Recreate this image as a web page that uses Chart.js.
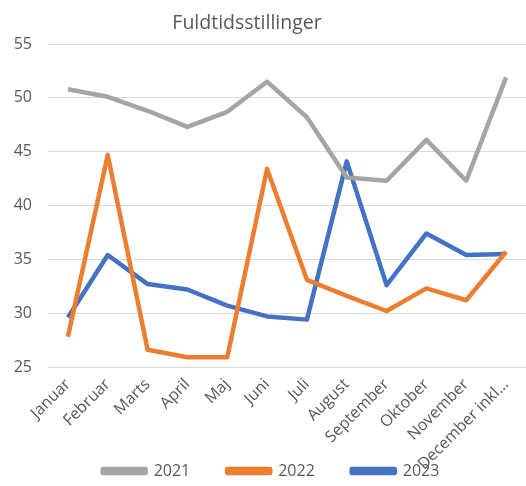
<!DOCTYPE html>
<html>
<head>
<meta charset="utf-8">
<script src="https://cdn.jsdelivr.net/npm/chart.js@4"></script>
<style>
  html, body { margin:0; padding:0; background:#fff; }
  #wrap { width:526px; height:486px; }
</style>
</head>
<body>
<div id="wrap"><canvas id="chart" width="526" height="486"></canvas></div>
<script>
// data
const months = ['Januar', 'Februar', 'Marts', 'April', 'Maj', 'Juni', 'Juli', 'August', 'September', 'Oktober', 'November', 'December inkl...'];
const values2021 = [50.8, 50.1, 48.8, 47.3, 48.7, 51.5, 48.2, 42.6, 42.3, 46.1, 42.3, 51.9];
const values2022 = [27.8, 44.7, 26.6, 25.9, 25.9, 43.4, 33.1, 31.6, 30.2, 32.3, 31.2, 35.7];
const values2023 = [29.6, 35.4, 32.7, 32.2, 30.7, 29.7, 29.4, 44.1, 32.6, 37.4, 35.4, 35.5];
const yMin = 25, yMax = 55, yStep = 5;
const chartTitle = 'Fuldtidsstillinger';

const textColor = '#595959';
const fontFamily = '"Open Sans", sans-serif';

// title sits a bit left of centre in the original, so draw it by hand
const titlePlugin = {
  id: 'offsetTitle',
  afterDraw(chart) {
    const ctx = chart.ctx;
    ctx.save();
    ctx.font = '19.5px ' + fontFamily;
    ctx.fillStyle = textColor;
    ctx.textAlign = 'center';
    ctx.textBaseline = 'middle';
    ctx.fillText(chartTitle, 247, 23);
    ctx.restore();
  }
};

function series(label, data, color) {
  return {
    label: label,
    data: data,
    borderColor: color,
    backgroundColor: color,
    borderWidth: 4.5,
    pointRadius: 0,
    tension: 0,
    borderJoinStyle: 'round'
  };
}

new Chart(document.getElementById('chart').getContext('2d'), {
  type: 'line',
  data: {
    labels: months,
    datasets: [
      series('2021', values2021, '#A5A5A5'),
      series('2022', values2022, '#ED7D31'),
      series('2023', values2023, '#4472C4')
    ]
  },
  options: {
    responsive: false,
    animation: false,
    // plot runs a few px past the right edge in the original (cropped screenshot)
    layout: { padding: { top: 44, left: 12, right: -4, bottom: -3 } },
    plugins: {
      title: { display: false },
      tooltip: { enabled: false },
      legend: {
        position: 'bottom',
        labels: {
          color: textColor,
          font: { size: 16, family: fontFamily },
          boxWidth: 43,
          boxHeight: 4,
          padding: 12,
          // wider gaps between entries, like the excel legend
          generateLabels(chart) {
            const items = Chart.defaults.plugins.legend.labels.generateLabels(chart);
            items.forEach((it, i) => { if (i < items.length - 1) it.text += '      '; });
            return items;
          }
        }
      }
    },
    scales: {
      x: {
        offset: true,
        grid: { display: false },
        border: { display: false },
        afterFit(scale) {
          scale.height = 84;
          // long labels run into the legend in the original, so don't clip them
          scale._computeLabelArea = () => undefined;
        },
        ticks: {
          color: textColor,
          font: { size: 16, family: fontFamily },
          minRotation: 45,
          maxRotation: 45,
          autoSkip: false,
          padding: 0
        }
      },
      y: {
        min: yMin,
        max: yMax,
        border: { display: false },
        grid: { color: '#d9d9d9', drawTicks: false },
        afterFit(scale) { scale.width = 36; },
        ticks: {
          stepSize: yStep,
          color: textColor,
          font: { size: 16, family: fontFamily },
          padding: 16
        }
      }
    }
  },
  plugins: [titlePlugin]
});
</script>
</body>
</html>
